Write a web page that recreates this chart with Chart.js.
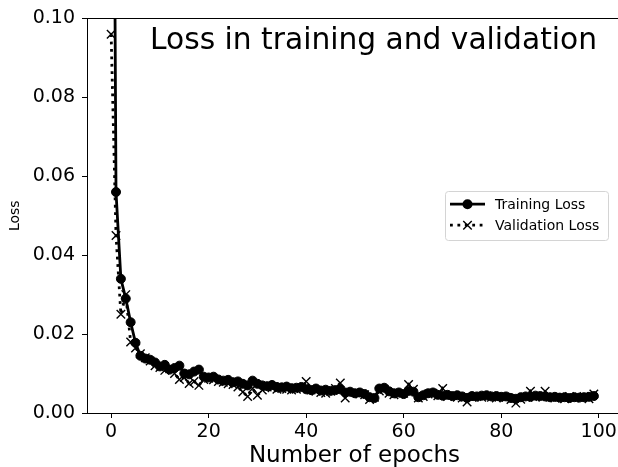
<!DOCTYPE html>
<html>
<head>
<meta charset="utf-8">
<script src="https://cdn.jsdelivr.net/npm/chart.js@4.4.0/dist/chart.umd.min.js"></script>
<style>
  html, body { margin: 0; padding: 0; background: #fff; overflow: hidden; }
  canvas { display: block; }
</style>
</head>
<body>
<!-- a little wider than the window: the original figure is cropped just inside its right spine -->
<canvas id="chart" width="622" height="467"></canvas>
<script>
// loss per epoch (0..99)
const trainLoss = [
  0.28, 0.056, 0.034, 0.029, 0.023, 0.0178, 0.0145, 0.0138, 0.0135, 0.0128,
  0.0118, 0.0122, 0.0110, 0.0114, 0.0120, 0.0100, 0.0098, 0.0105, 0.0110, 0.0092,
  0.0090, 0.0092, 0.0085, 0.0082, 0.0084, 0.0078, 0.0080, 0.0074, 0.0070, 0.0082,
  0.0074, 0.0070, 0.0068, 0.0071, 0.0066, 0.0065, 0.0067, 0.0063, 0.0064, 0.0066,
  0.0060, 0.0058, 0.0062, 0.0057, 0.0059, 0.0056, 0.0058, 0.0060, 0.0052, 0.0054,
  0.0050, 0.0052, 0.0048, 0.0040, 0.0038, 0.0062, 0.0064, 0.0055, 0.0050, 0.0052,
  0.0048, 0.0056, 0.0054, 0.0040, 0.0045, 0.0050, 0.0052, 0.0046, 0.0044, 0.0046,
  0.0043, 0.0045, 0.0042, 0.0038, 0.0043, 0.0042, 0.0044, 0.0045, 0.0042, 0.0043,
  0.0041, 0.0042, 0.0038, 0.0036, 0.0040, 0.0042, 0.0041, 0.0044, 0.0043, 0.0042,
  0.0040, 0.0041, 0.0039, 0.0040, 0.0038, 0.0040, 0.0039, 0.0040, 0.0041, 0.0043
];
const valLoss = [
  0.096, 0.045, 0.025, 0.030, 0.018, 0.0165, 0.0150, 0.0140, 0.0132, 0.0120,
  0.0115, 0.0108, 0.0112, 0.0100, 0.0085, 0.0090, 0.0075, 0.0080, 0.0070, 0.0085,
  0.0088, 0.0084, 0.0080, 0.0078, 0.0074, 0.0072, 0.0066, 0.0053, 0.0042, 0.0062,
  0.0045, 0.0058, 0.0066, 0.0064, 0.0060, 0.0062, 0.0060, 0.0058, 0.0060, 0.0062,
  0.0080, 0.0058, 0.0055, 0.0052, 0.0050, 0.0055, 0.0062, 0.0076, 0.0038, 0.0050,
  0.0052, 0.0048, 0.0046, 0.0034, 0.0040, 0.0056, 0.0060, 0.0050, 0.0046, 0.0048,
  0.0050, 0.0072, 0.0060, 0.0038, 0.0042, 0.0048, 0.0050, 0.0044, 0.0062, 0.0042,
  0.0045, 0.0040, 0.0038, 0.0028, 0.0040, 0.0042, 0.0040, 0.0044, 0.0040, 0.0038,
  0.0042, 0.0040, 0.0034, 0.0025, 0.0035, 0.0040, 0.0055, 0.0040, 0.0042, 0.0055,
  0.0040, 0.0038, 0.0040, 0.0036, 0.0042, 0.0038, 0.0040, 0.0042, 0.0036, 0.0048
];
const xTicks = [0, 20, 40, 60, 80, 100];
const yTicks = [0, 0.02, 0.04, 0.06, 0.08, 0.10];

const FONT = "'DejaVu Sans', sans-serif";
const LW = 2.8;
const X_MIN = -4.95, X_MAX = 104.77;

function asPoints(arr) {
  return arr.map((v, i) => ({ x: i, y: v }));
}

// matplotlib style title inside the axes, top right
const innerTitle = {
  id: 'innerTitle',
  afterDraw(chart) {
    const { ctx, chartArea } = chart;
    ctx.save();
    ctx.font = '29.7px ' + FONT;
    ctx.fillStyle = '#000';
    ctx.textAlign = 'right';
    ctx.textBaseline = 'alphabetic';
    ctx.fillText('Loss in training and validation', 597, chartArea.top + 31);
    ctx.restore();
  }
};

// legend box at center right, handles show line + marker
const innerLegend = {
  id: 'innerLegend',
  afterDraw(chart) {
    const { ctx, chartArea } = chart;
    const w = 163, h = 49;
    const left = 608 - w;
    const top = (chartArea.top + chartArea.bottom) / 2 - h / 2;
    ctx.save();
    ctx.beginPath();
    ctx.roundRect(Math.round(left) + 0.5, Math.round(top) + 0.5, w, h, 3);
    ctx.fillStyle = 'rgba(255,255,255,0.8)';
    ctx.fill();
    ctx.strokeStyle = '#d4d4d4';
    ctx.lineWidth = 1;
    ctx.stroke();

    chart.data.datasets.forEach((ds, i) => {
      const y = top + 13 + i * 21;
      const x1 = left + 5, x2 = left + 40, xm = (x1 + x2) / 2;
      ctx.strokeStyle = '#000';
      ctx.fillStyle = '#000';
      ctx.lineWidth = LW;
      ctx.setLineDash(ds.borderDash || []);
      ctx.beginPath();
      ctx.moveTo(x1, y);
      ctx.lineTo(x2, y);
      ctx.stroke();
      ctx.setLineDash([]);
      if (ds.pointStyle === 'circle') {
        ctx.beginPath();
        ctx.arc(xm, y, ds.pointRadius + 0.5, 0, Math.PI * 2);
        ctx.fill();
      } else {
        const r = ds.pointRadius * Math.SQRT1_2;
        ctx.lineWidth = ds.pointBorderWidth;
        ctx.beginPath();
        ctx.moveTo(xm - r, y - r); ctx.lineTo(xm + r, y + r);
        ctx.moveTo(xm - r, y + r); ctx.lineTo(xm + r, y - r);
        ctx.stroke();
      }
      ctx.font = '14px ' + FONT;
      ctx.textAlign = 'left';
      ctx.textBaseline = 'middle';
      ctx.fillText(ds.label, left + 50, y + 1);
    });
    ctx.restore();
  }
};

const tickFont = { family: FONT, size: 19 };

new Chart(document.getElementById('chart'), {
  type: 'line',
  data: {
    datasets: [
      {
        label: 'Training Loss',
        data: asPoints(trainLoss),
        borderColor: '#000',
        backgroundColor: '#000',
        borderWidth: LW,
        pointStyle: 'circle',
        pointRadius: 4.5,
        pointBorderWidth: 1,
        pointBackgroundColor: '#000',
        pointBorderColor: '#000',
        tension: 0,
        order: 1
      },
      {
        label: 'Validation Loss',
        data: asPoints(valLoss),
        borderColor: '#000',
        backgroundColor: '#000',
        borderWidth: LW,
        borderDash: [LW, LW * 1.65],
        borderCapStyle: 'butt',
        pointStyle: 'crossRot',
        pointRadius: 6,
        pointBorderWidth: 1.4,
        pointBorderColor: '#000',
        tension: 0,
        order: 0
      }
    ]
  },
  plugins: [innerTitle, innerLegend],
  options: {
    responsive: false,
    animation: false,
    devicePixelRatio: 1,
    layout: { autoPadding: false, padding: { top: 15, left: 0, right: 0, bottom: 0 } },
    plugins: {
      legend: { display: false },
      title: { display: false },
      tooltip: { enabled: false }
    },
    scales: {
      x: {
        type: 'linear',
        position: 'bottom',
        min: X_MIN,
        max: X_MAX,
        afterBuildTicks(scale) { scale.ticks = xTicks.map(v => ({ value: v })); },
        afterFit(scale) { scale.height = 54; scale.paddingLeft = 0; scale.paddingRight = 0; },
        ticks: { font: tickFont, color: '#000', padding: 3, maxRotation: 0, callback: v => String(v) },
        grid: { display: true, drawOnChartArea: false, drawTicks: true, tickLength: 5, color: '#000' },
        border: { display: true, color: '#000', width: 1 },
        title: { display: true, text: 'Number of epochs', font: { family: FONT, size: 23 }, color: '#000', padding: { top: 0, bottom: -3 } }
      },
      xTop: {
        type: 'linear',
        position: 'top',
        min: X_MIN,
        max: X_MAX,
        afterFit(scale) { scale.height = 0; scale.paddingLeft = 0; scale.paddingRight = 0; },
        ticks: { display: false },
        grid: { display: false, drawTicks: false },
        border: { display: true, color: '#000', width: 1 }
      },
      y: {
        type: 'linear',
        position: 'left',
        min: 0,
        max: 0.1,
        afterBuildTicks(scale) { scale.ticks = yTicks.map(v => ({ value: v })); },
        afterFit(scale) { scale.width = 87; },
        ticks: { font: tickFont, color: '#000', padding: 7, callback: v => v.toFixed(2) },
        grid: { display: true, drawOnChartArea: false, drawTicks: true, tickLength: 5, color: '#000' },
        border: { display: true, color: '#000', width: 1 },
        title: { display: true, text: 'Loss', font: { family: FONT, size: 14 }, color: '#000', padding: { top: 7, bottom: 0 } }
      }
    }
  }
});
</script>
</body>
</html>
